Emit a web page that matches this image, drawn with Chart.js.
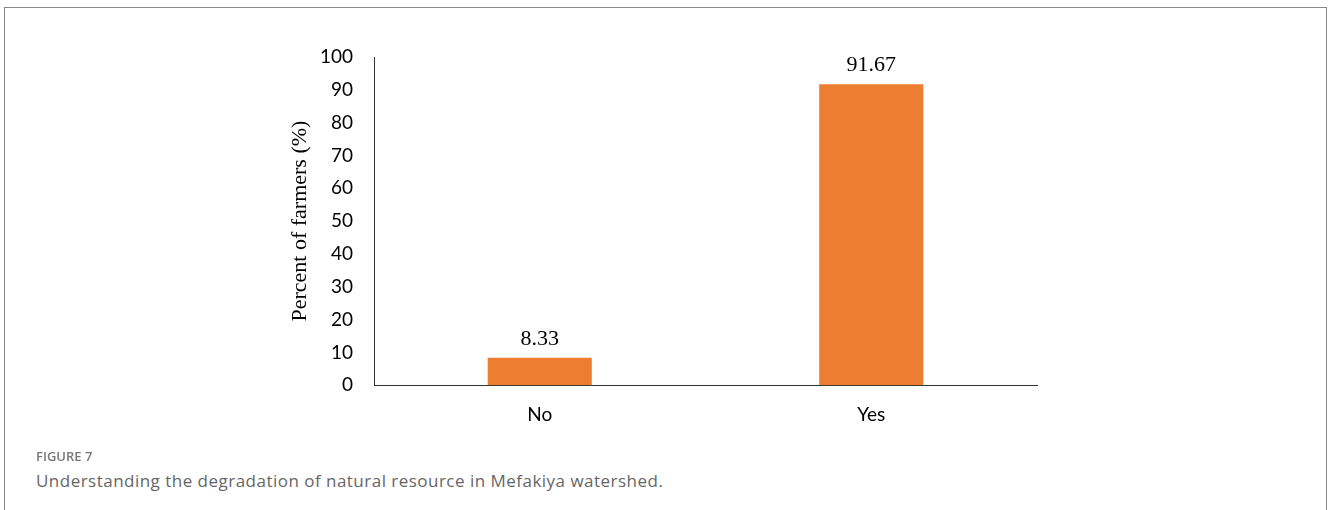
<!DOCTYPE html>
<html>
<head>
<meta charset="utf-8">
<script src="https://cdn.jsdelivr.net/npm/chart.js@4"></script>
<style>
  body { margin: 0; background: #fff; width: 1329px; height: 510px; overflow: hidden; position: relative; }
  .frame { position: absolute; left: 4px; top: 7px; width: 1321px; height: 520px; border: 1px solid #888; border-bottom: none; }
  .chartbox { position: absolute; left: 0; top: 0; width: 1329px; height: 454px; }
  .fig { position: absolute; left: 36px; top: 447px; font-family: "Open Sans", Lato, sans-serif; font-weight: 600; font-size: 13px; color: #777; }
  .cap { position: absolute; left: 36px; top: 469px; font-family: "Open Sans", Lato, sans-serif; font-size: 17px; letter-spacing: 0.48px; color: #666; }
</style>
</head>
<body>
<div class="frame"></div>
<div class="chartbox"><canvas id="living"></canvas></div>
<div class="fig">FIGURE 7</div>
<div class="cap">Understanding the degradation of natural resource in Mefakiya watershed.</div>
<script>
const categories = ['No', 'Yes'];
const percentValues = [8.33, 91.67];
const yTicks = [0, 10, 20, 30, 40, 50, 60, 70, 80, 90, 100];

document.addEventListener('DOMContentLoaded', function () {
  const canvas = document.getElementById('living');

  // writes the value above each bar
  const valueLabels = {
    id: 'valueLabels',
    afterDatasetsDraw(chart) {
      const ctx = chart.ctx;
      const meta = chart.getDatasetMeta(0);
      ctx.save();
      ctx.font = '22px "Liberation Serif", "Times New Roman", serif';
      ctx.fillStyle = '#000';
      ctx.textAlign = 'center';
      ctx.textBaseline = 'bottom';
      meta.data.forEach((bar, i) => {
        ctx.fillText(percentValues[i].toFixed(2), bar.x, bar.y - 8);
      });
      ctx.restore();
    }
  };

  const data = {
    labels: categories,
    datasets: [{
      label: 'Percent of farmers',
      data: percentValues,
      backgroundColor: '#ED7D31',
      borderWidth: 0,
      categoryPercentage: 1,
      barPercentage: 0.314
    }]
  };

  const config = {
    type: 'bar',
    data: data,
    options: {
      responsive: true,
      maintainAspectRatio: false,
      animation: false,
      layout: { padding: { left: 280, right: 292, top: 57, bottom: 10 } },
      plugins: { legend: { display: false }, tooltip: { enabled: false } },
      scales: {
        x: {
          grid: { display: false, drawTicks: false },
          border: { display: true, color: '#333', width: 1 },
          ticks: { color: '#000', padding: 18, font: { family: 'Lato', size: 19 } }
        },
        y: {
          min: 0,
          max: 100,
          afterBuildTicks: (scale) => { scale.ticks = yTicks.map(v => ({ value: v })); },
          afterFit: (scale) => { scale.width = 94; },
          grid: { display: false, drawTicks: false },
          border: { display: true, color: '#333', width: 1 },
          ticks: { color: '#000', padding: 21, font: { family: 'Lato', size: 19 } },
          title: {
            display: true,
            text: 'Percent of farmers (%)',
            color: '#000',
            padding: { top: 8, bottom: 0 },
            font: { family: '"Liberation Serif", "Times New Roman", serif', size: 22, lineHeight: 1.1 }
          }
        }
      }
    },
    plugins: [valueLabels]
  };

  const myChart = new Chart(canvas, config);
});
</script>
</body>
</html>
